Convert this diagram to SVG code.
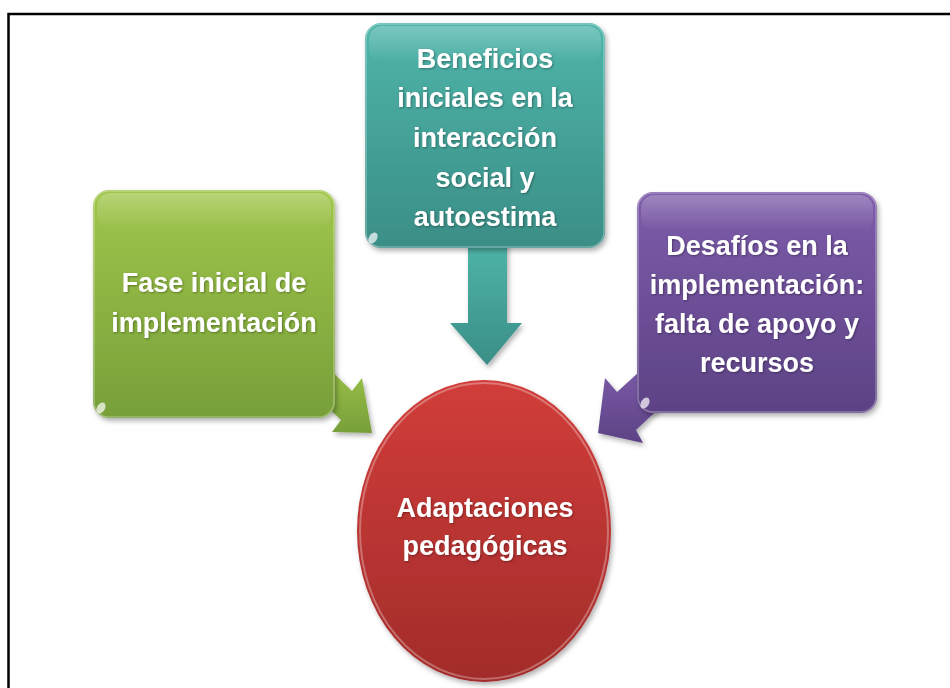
<svg xmlns="http://www.w3.org/2000/svg" width="950" height="688" viewBox="0 0 950 688">
<defs>
<linearGradient id="gGreen" x1="0" y1="0" x2="0" y2="1"><stop offset="0" stop-color="#a0c64b"/><stop offset="1" stop-color="#779f39"/></linearGradient>
<linearGradient id="gTeal" x1="0" y1="0" x2="0" y2="1"><stop offset="0" stop-color="#4fb5aa"/><stop offset="1" stop-color="#3a8e86"/></linearGradient>
<linearGradient id="gPurple" x1="0" y1="0" x2="0" y2="1"><stop offset="0" stop-color="#7d5caa"/><stop offset="1" stop-color="#5d4285"/></linearGradient>
<linearGradient id="gRed" x1="0" y1="0" x2="0" y2="1"><stop offset="0" stop-color="#d13d3a"/><stop offset="1" stop-color="#a22c2a"/></linearGradient>
<linearGradient id="gHi" x1="0" y1="0" x2="0" y2="1"><stop offset="0" stop-color="#ffffff" stop-opacity="0.25"/><stop offset="1" stop-color="#ffffff" stop-opacity="0"/></linearGradient>
<filter id="sh" x="-10%" y="-10%" width="125%" height="125%"><feDropShadow dx="2" dy="3" stdDeviation="2.5" flood-color="#000" flood-opacity="0.3"/></filter>
<filter id="ts" x="-5%" y="-20%" width="110%" height="140%"><feDropShadow dx="1" dy="1" stdDeviation="0.8" flood-color="#000" flood-opacity="0.35"/></filter>
</defs>
<style>
.frame{fill:none;stroke:#000;stroke-width:2.5}
.lbl{font-family:"Liberation Sans",Arial,sans-serif;font-weight:bold;font-size:27px;fill:#fff;text-anchor:middle}
.rim{fill:none;stroke:#fff;stroke-opacity:0.3;stroke-width:1.5}
.spot{fill:#fff;opacity:0.7}
</style>
<path class="frame" d="M8.5,688 V14 H950"/>
<g id="connectors">
<polygon id="arrow-green" filter="url(#sh)" fill="url(#gGreen)" points="318,358 352,391 362,378 372,433 332,432 341,420 306,386"/>
<polygon id="arrow-teal" filter="url(#sh)" fill="url(#gTeal)" points="468,240 507,240 507,323 522,323 487,365 450,323 468,323"/>
<polygon id="arrow-purple" filter="url(#sh)" fill="url(#gPurple)" points="650,362 617,392 605,378 598,433 643,443 636,430 666,402"/>
</g>
<g id="node-fase">
<rect x="93" y="190" width="242" height="228" rx="16" fill="url(#gGreen)" filter="url(#sh)"/>
<rect x="97" y="193" width="234" height="36" rx="13" fill="url(#gHi)"/>
<rect x="94" y="191" width="240" height="226" rx="15" class="rim"/>
<ellipse cx="101" cy="408" rx="4" ry="6" class="spot" transform="rotate(30 101 408)"/>
<g filter="url(#ts)"><text class="lbl" x="214" y="292">Fase inicial de</text><text class="lbl" x="214" y="332">implementación</text></g>
</g>
<g id="node-beneficios">
<rect x="365" y="23" width="240" height="225" rx="16" fill="url(#gTeal)" filter="url(#sh)"/>
<rect x="369" y="26" width="232" height="36" rx="13" fill="url(#gHi)"/>
<rect x="366" y="24" width="238" height="223" rx="15" class="rim"/>
<ellipse cx="373" cy="238" rx="4" ry="6" class="spot" transform="rotate(30 373 238)"/>
<g filter="url(#ts)">
<text class="lbl" x="485" y="68">Beneficios</text>
<text class="lbl" x="485" y="107">iniciales en la</text>
<text class="lbl" x="485" y="147">interacción</text>
<text class="lbl" x="485" y="187">social y</text>
<text class="lbl" x="485" y="226">autoestima</text>
</g>
</g>
<g id="node-desafios">
<rect x="637" y="192" width="240" height="221" rx="16" fill="url(#gPurple)" filter="url(#sh)"/>
<rect x="641" y="195" width="232" height="36" rx="13" fill="url(#gHi)"/>
<rect x="638" y="193" width="238" height="219" rx="15" class="rim"/>
<ellipse cx="645" cy="403" rx="4" ry="6" class="spot" transform="rotate(30 645 403)"/>
<g filter="url(#ts)">
<text class="lbl" x="757" y="255">Desafíos en la</text>
<text class="lbl" x="757" y="294">implementación:</text>
<text class="lbl" x="757" y="333">falta de apoyo y</text>
<text class="lbl" x="757" y="372">recursos</text>
</g>
</g>
<g id="node-adaptaciones">
<ellipse cx="484" cy="531" rx="127" ry="151" fill="url(#gRed)" filter="url(#sh)"/>
<ellipse cx="484" cy="531" rx="124" ry="148" fill="none" stroke="#fff" stroke-opacity="0.3" stroke-width="2"/>
<g filter="url(#ts)">
<text class="lbl" x="485" y="517">Adaptaciones</text>
<text class="lbl" x="485" y="555">pedagógicas</text>
</g>
</g>
</svg>
